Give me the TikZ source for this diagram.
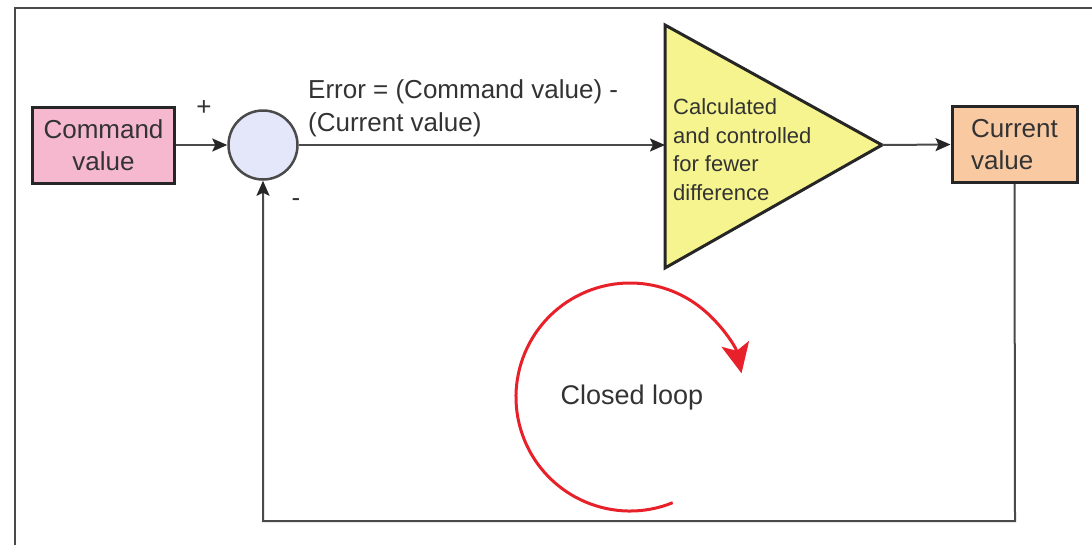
\documentclass[tikz,border=0pt]{standalone}
\usepackage{fontspec}
\setmainfont{Liberation Sans}
\usetikzlibrary{arrows.meta}
\definecolor{cmdfill}{HTML}{F6B8CE}
\definecolor{curfill}{HTML}{F9C9A2}
\definecolor{trifill}{HTML}{F6F48E}
\definecolor{sumfill}{HTML}{E4E6FA}
\definecolor{linegray}{HTML}{4A4A4A}
\definecolor{txt}{HTML}{333333}
\definecolor{loopred}{HTML}{E8202A}
\tikzset{
  blk/.style={draw=black!85, line width=3pt, minimum width=142pt, minimum height=76pt,
    inner sep=0pt, text=txt, font=\fontsize{26}{32}\selectfont},
  conn/.style={draw=linegray, line width=2pt,
    -{Stealth[length=15pt,width=13pt,inset=3pt,color=black!85]}},
  lbl/.style={text=txt, font=\fontsize{26}{32}\selectfont, inner sep=0pt},
}
\begin{document}
\begin{tikzpicture}[x=1pt,y=-1pt]
\useasboundingbox (0,0) rectangle (1092,544);
% outer frame (cut off on right and bottom)
\draw[draw=linegray, line width=2pt] (15,560) -- (15,8) -- (1100,8);

% blocks
\node[blk, fill=cmdfill, align=center] (cmd) at (103.5,145) {Command\\value};
\node[blk, fill=curfill, minimum width=125pt, align=left] (cur) at (1014.5,144.5) {Current\\value};
\node[circle, draw=linegray, line width=2.5pt, fill=sumfill, minimum size=69pt, inner sep=0pt] (sum) at (263,145) {};

% amplifier triangle
\draw[draw=black!85, line width=3pt, fill=trifill, line join=miter]
  (665,25) -- (882,145) -- (665,268) -- cycle;
\coordinate (trin) at (665,145);
\coordinate (trout) at (882,145);
\node[anchor=base west, text=txt, font=\fontsize{22}{28.5}\selectfont, align=left, inner sep=0pt] (trtext) at (673,200)
  {Calculated\\and controlled\\for fewer\\difference};

% connectors
\draw[conn] (cmd.east) -- (sum.west);
\draw[conn] (sum.east) -- (trin);
\draw[conn] (trout) -- (cur.west);
\coordinate (br) at (1015,521);
\coordinate (bl) at (263,521);
\draw[conn] (cur.south) -- (br) -- (bl) -- (sum.south);

% labels
\node[lbl, anchor=base] (plus) at (204,115) {+};
\node[lbl, anchor=base] (minus) at (296,206) {-};
\node[lbl, anchor=base west] (err1) at (308,98) {Error = (Command value) -};
\node[lbl, anchor=base west] (err2) at (308,131) {(Current value)};

% closed loop (y axis points down, so angles run the other way)
\draw[draw=loopred, line width=3pt, -{Stealth[length=30pt,width=28pt,inset=7pt]}]
  (630,397) ++(68:114) arc[start angle=68, end angle=348, radius=114];
\node[text=txt, font=\fontsize{27}{32}\selectfont, inner sep=0pt] (loop) at (632,398) {Closed loop};
\end{tikzpicture}
\end{document}
